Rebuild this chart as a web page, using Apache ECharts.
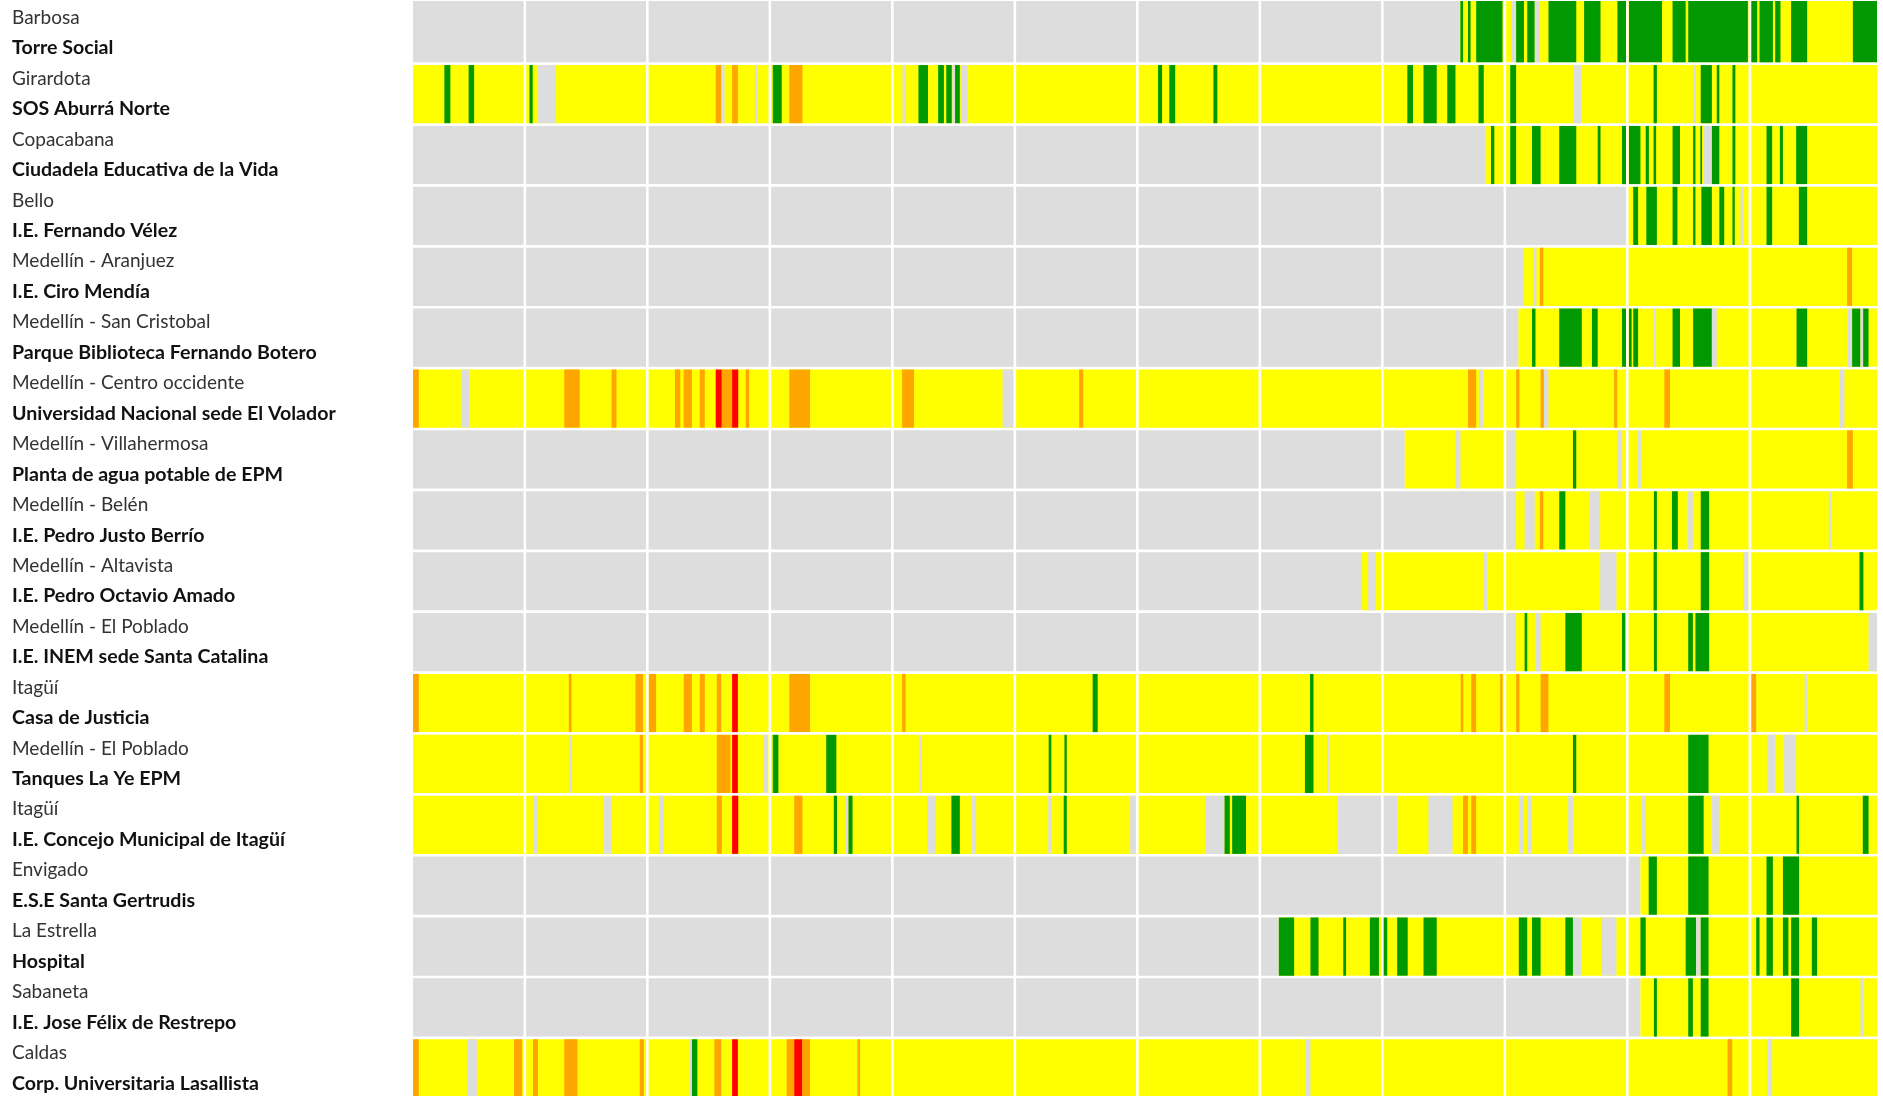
<!DOCTYPE html>
<html>
<head>
<meta charset="utf-8">
<script src="https://cdn.jsdelivr.net/npm/echarts@6.0.0/dist/echarts.min.js"></script>
<style>
  html, body { margin: 0; padding: 0; background: #fff; }
  #chart { width: 1883px; height: 1096px; }
</style>
</head>
<body>
<div id="chart"></div>
<script>
// time range shown (decimal years)
const START = 2011.087;
const END = 2023.038;
const yearLines = [2012, 2013, 2014, 2015, 2016, 2017, 2018, 2019, 2020, 2021, 2022];

const places = ["Barbosa", "Girardota", "Copacabana", "Bello", "Medellín - Aranjuez", "Medellín - San Cristobal",
  "Medellín - Centro occidente", "Medellín - Villahermosa", "Medellín - Belén", "Medellín - Altavista",
  "Medellín - El Poblado", "Itagüí", "Medellín - El Poblado", "Itagüí", "Envigado", "La Estrella", "Sabaneta", "Caldas"];
const sites = ["Torre Social", "SOS Aburrá Norte", "Ciudadela Educativa de la Vida", "I.E. Fernando Vélez",
  "I.E. Ciro Mendía", "Parque Biblioteca Fernando Botero", "Universidad Nacional sede El Volador",
  "Planta de agua potable de EPM", "I.E. Pedro Justo Berrío", "I.E. Pedro Octavio Amado",
  "I.E. INEM sede Santa Catalina", "Casa de Justicia", "Tanques La Ye EPM", "I.E. Concejo Municipal de Itagüí",
  "E.S.E Santa Gertrudis", "Hospital", "I.E. Jose Félix de Restrepo", "Corp. Universitaria Lasallista"];

// level codes: 0 no data, 1 good, 2 moderate, 3 sensitive groups, 4 harmful
const levelColors = ["#dddddd", "#009900", "#ffff00", "#ffa500", "#ff0000"];

// each row: [from, to, level], later spans drawn over earlier ones
const torreSocial = [[START, 2019.632, 0], [2019.632, END, 2],
  [2019.637, 2019.659, 1], [2019.699, 2019.720, 1], [2019.766, 2019.981, 1],
  [2020.05, 2020.092, 0], [2020.092, 2020.156, 1], [2020.183, 2020.244, 1], [2020.244, 2020.286, 0],
  [2020.356, 2020.583, 1], [2020.647, 2020.781, 1], [2020.919, 2020.989, 1],
  [2021.013, 2021.283, 1], [2021.369, 2021.476, 1], [2021.497, 2021.984, 1],
  [2022.011, 2022.060, 1], [2022.079, 2022.188, 1], [2022.207, 2022.250, 1], [2022.337, 2022.468, 1], [2022.841, END, 1]];
const sosNorte = [[START, END, 2],
  [2011.343, 2011.392, 1], [2011.541, 2011.586, 1],
  [2012.038, 2012.064, 1], [2012.107, 2012.255, 0],
  [2013.558, 2013.603, 3], [2013.608, 2013.631, 0], [2013.692, 2013.739, 3], [2013.878, 2013.9, 0],
  [2014.024, 2014.097, 1], [2014.159, 2014.266, 3],
  [2015.083, 2015.111, 0], [2015.213, 2015.291, 1], [2015.374, 2015.421, 1], [2015.44, 2015.485, 1],
  [2015.49, 2015.512, 0], [2015.512, 2015.551, 1], [2015.559, 2015.615, 0],
  [2017.169, 2017.202, 1], [2017.261, 2017.309, 1], [2017.621, 2017.653, 1],
  [2019.204, 2019.25, 1], [2019.336, 2019.444, 1], [2019.53, 2019.597, 1], [2019.785, 2019.828, 1],
  [2020.044, 2020.092, 1], [2020.564, 2020.625, 0],
  [2021.214, 2021.241, 1], [2021.537, 2021.561, 0], [2021.599, 2021.69, 1], [2021.73, 2021.751, 1], [2021.858, 2021.882, 1]];
const ciudadela = [[START, 2019.847, 0], [2019.847, END, 2],
  [2019.887, 2019.914, 1],
  [2020.044, 2020.092, 1], [2020.222, 2020.292, 1], [2020.444, 2020.583, 1], [2020.758, 2020.781, 1], [2020.956, 2020.989, 1],
  [2021.013, 2021.107, 1], [2021.15, 2021.176, 1], [2021.214, 2021.235, 1], [2021.369, 2021.43, 1], [2021.537, 2021.556, 1],
  [2021.596, 2021.61, 1], [2021.623, 2021.684, 0], [2021.69, 2021.751, 1], [2021.858, 2021.882, 1],
  [2022.136, 2022.182, 1], [2022.245, 2022.27, 1], [2022.378, 2022.468, 1]];
const fernandoVelez = [[START, 2021.005, 0], [2021.005, END, 2],
  [2021.048, 2021.088, 1], [2021.155, 2021.241, 1], [2021.369, 2021.409, 1], [2021.537, 2021.556, 1],
  [2021.604, 2021.69, 1], [2021.751, 2021.791, 1], [2021.858, 2021.877, 1], [2021.925, 2021.947, 0],
  [2022.136, 2022.182, 1], [2022.4, 2022.468, 1]];
const ciroMendia = [[START, 2020.156, 0], [2020.156, END, 2],
  [2020.231, 2020.258, 0], [2020.286, 2020.314, 3],
  [2022.794, 2022.835, 3]];
const fernandoBotero = [[START, 2020.111, 0], [2020.111, END, 2],
  [2020.222, 2020.25, 1], [2020.444, 2020.628, 1], [2020.711, 2020.758, 1], [2020.956, 2020.989, 1],
  [2021.013, 2021.035, 1], [2021.048, 2021.088, 1], [2021.217, 2021.235, 0], [2021.369, 2021.43, 1],
  [2021.537, 2021.69, 1], [2021.69, 2021.73, 0],
  [2022.381, 2022.468, 1], [2022.8, 2022.835, 0], [2022.835, 2022.903, 1], [2022.903, 2022.925, 0], [2022.925, 2022.969, 1]];
const elVolador = [[START, END, 2],
  [START, 2011.135, 3], [2011.478, 2011.546, 0],
  [2012.322, 2012.448, 3], [2012.708, 2012.748, 3],
  [2013.225, 2013.269, 3], [2013.297, 2013.364, 3], [2013.428, 2013.469, 3], [2013.558, 2013.608, 4],
  [2013.608, 2013.692, 3], [2013.692, 2013.742, 4], [2013.803, 2013.831, 3],
  [2014.159, 2014.328, 3],
  [2015.08, 2015.177, 3], [2015.9, 2015.989, 0],
  [2016.525, 2016.558, 3],
  [2019.699, 2019.766, 3], [2019.788, 2019.825, 0],
  [2020.092, 2020.119, 3], [2020.292, 2020.319, 3], [2020.319, 2020.356, 0], [2020.892, 2020.917, 3],
  [2021.302, 2021.348, 3],
  [2022.732, 2022.772, 0]];
const plantaEpm = [[START, 2019.183, 0], [2019.183, END, 2],
  [2019.597, 2019.637, 0],
  [2020.011, 2020.092, 0], [2020.556, 2020.583, 1], [2020.917, 2020.958, 0],
  [2021.088, 2021.115, 0],
  [2022.794, 2022.841, 3]];
const justoBerrio = [[START, 2020.092, 0], [2020.092, END, 2],
  [2020.161, 2020.244, 0], [2020.286, 2020.314, 3], [2020.444, 2020.494, 1], [2020.694, 2020.778, 0],
  [2021.217, 2021.241, 1], [2021.364, 2021.412, 1], [2021.492, 2021.535, 0], [2021.599, 2021.668, 1],
  [2022.645, 2022.664, 0]];
const octavioAmado = [[START, 2018.834, 0], [2018.834, END, 2],
  [2018.884, 2018.945, 0],
  [2019.828, 2019.855, 0],
  [2020.778, 2020.911, 0],
  [2021.214, 2021.241, 1], [2021.599, 2021.668, 1], [2021.944, 2021.989, 0],
  [2022.895, 2022.927, 1]];
const inem = [[START, 2020.092, 0], [2020.092, END, 2],
  [2020.161, 2020.183, 1], [2020.25, 2020.292, 0], [2020.494, 2020.628, 1], [2020.956, 2020.983, 1],
  [2021.217, 2021.241, 1], [2021.497, 2021.535, 1], [2021.556, 2021.668, 1],
  [2022.969, END, 0]];
const casaJusticia = [[START, END, 2],
  [START, 2011.135, 3],
  [2012.359, 2012.381, 3], [2012.903, 2012.965, 3],
  [2013.011, 2013.072, 3], [2013.297, 2013.364, 3], [2013.428, 2013.469, 3], [2013.567, 2013.603, 3], [2013.692, 2013.739, 4],
  [2014.159, 2014.328, 3],
  [2015.08, 2015.108, 3],
  [2016.635, 2016.676, 1],
  [2018.41, 2018.438, 1],
  [2019.64, 2019.661, 3], [2019.726, 2019.766, 3], [2019.962, 2019.981, 3],
  [2020.092, 2020.119, 3], [2020.292, 2020.356, 3],
  [2021.302, 2021.348, 3],
  [2022.011, 2022.052, 3], [2022.447, 2022.469, 0]];
const tanquesLaYe = [[START, END, 2],
  [2012.362, 2012.381, 0], [2012.938, 2012.965, 3],
  [2013.567, 2013.678, 3], [2013.692, 2013.739, 4], [2013.947, 2013.983, 0],
  [2014.024, 2014.07, 1], [2014.46, 2014.543, 1],
  [2015.221, 2015.241, 0],
  [2016.276, 2016.298, 1], [2016.405, 2016.424, 1],
  [2018.368, 2018.438, 1], [2018.548, 2018.571, 0],
  [2020.556, 2020.583, 1],
  [2021.497, 2021.663, 1],
  [2022.141, 2022.207, 0], [2022.277, 2022.378, 0]];
const concejoItagui = [[START, END, 2],
  [2012.067, 2012.107, 0], [2012.643, 2012.708, 0],
  [2013.094, 2013.136, 0], [2013.567, 2013.608, 3], [2013.692, 2013.742, 4],
  [2014.199, 2014.266, 3], [2014.522, 2014.548, 1], [2014.616, 2014.642, 0], [2014.642, 2014.675, 1],
  [2015.283, 2015.352, 0], [2015.482, 2015.551, 1], [2015.648, 2015.684, 0],
  [2016.273, 2016.3, 0], [2016.399, 2016.424, 1], [2016.941, 2016.981, 0],
  [2017.559, 2017.712, 0], [2017.712, 2017.755, 1], [2017.774, 2017.887, 1],
  [2018.634, 2019.121, 0], [2019.376, 2019.573, 0], [2019.659, 2019.699, 3], [2019.726, 2019.766, 3],
  [2020.114, 2020.156, 0], [2020.183, 2020.222, 0], [2020.517, 2020.556, 0],
  [2021.115, 2021.15, 0], [2021.497, 2021.623, 1], [2021.69, 2021.751, 0],
  [2022.381, 2022.402, 1], [2022.922, 2022.969, 1]];
const santaGertrudis = [[START, 2021.107, 0], [2021.107, END, 2],
  [2021.174, 2021.241, 1], [2021.497, 2021.663, 1],
  [2022.136, 2022.188, 1], [2022.27, 2022.402, 1]];
const hospital = [[START, 2018.155, 0], [2018.155, END, 2],
  [2018.155, 2018.28, 1], [2018.413, 2018.479, 1], [2018.681, 2018.704, 1], [2018.898, 2018.972, 1],
  [2019.0, 2019.04, 1], [2019.121, 2019.207, 1], [2019.336, 2019.444, 1],
  [2020.114, 2020.183, 1], [2020.222, 2020.292, 1], [2020.494, 2020.556, 1], [2020.556, 2020.625, 0], [2020.786, 2020.911, 0],
  [2021.107, 2021.15, 1], [2021.476, 2021.561, 1], [2021.561, 2021.599, 0], [2021.599, 2021.663, 1],
  [2022.052, 2022.079, 1], [2022.136, 2022.188, 1], [2022.27, 2022.315, 1], [2022.337, 2022.402, 1], [2022.506, 2022.549, 1]];
const felixRestrepo = [[START, 2021.107, 0], [2021.107, END, 2],
  [2021.217, 2021.241, 1], [2021.497, 2021.535, 1], [2021.599, 2021.663, 1],
  [2022.337, 2022.402, 1], [2022.903, 2022.927, 0]];
const lasallista = [[START, END, 2],
  [START, 2011.135, 3], [2011.527, 2011.608, 0], [2011.911, 2011.978, 3],
  [2012.067, 2012.107, 3], [2012.322, 2012.429, 3], [2012.938, 2012.971, 3],
  [2013.344, 2013.364, 0], [2013.364, 2013.408, 1], [2013.547, 2013.603, 3], [2013.692, 2013.739, 4],
  [2014.137, 2014.199, 3], [2014.199, 2014.266, 4], [2014.266, 2014.328, 3], [2014.715, 2014.737, 3],
  [2018.377, 2018.413, 0],
  [2021.818, 2021.856, 3],
  [2022.141, 2022.182, 0]];

const rows = [torreSocial, sosNorte, ciudadela, fernandoVelez, ciroMendia, fernandoBotero, elVolador,
  plantaEpm, justoBerrio, octavioAmado, inem, casaJusticia, tanquesLaYe, concejoItagui,
  santaGertrudis, hospital, felixRestrepo, lasallista];

// [row, from, to, level]
const spans = [];
rows.forEach((row, i) => row.forEach(([a, b, lvl]) => spans.push([i, a, b, lvl])));

const chart = echarts.init(document.getElementById("chart"));

// the row strips sit a little below the label bands, white gap between rows
const renderSpan = (params, api) => {
  const row = api.value(0);
  const p0 = api.coord([api.value(1), row]);
  const p1 = api.coord([api.value(2), row]);
  const h = api.size([0, 1])[1];
  const top = row === 0 ? params.coordSys.y + 1 : p0[1] - h / 2 + 2.8 + 1.35;
  const bottom = p0[1] + h / 2 + 2.8 - 1.35;
  return {
    type: "rect",
    shape: { x: p0[0], y: top, width: p1[0] - p0[0], height: bottom - top },
    style: { fill: levelColors[api.value(3)] },
  };
};

// white separators at each new year
const renderYear = (params, api) => {
  const p = api.coord([api.value(1), 0]);
  const cs = params.coordSys;
  return {
    type: "rect",
    shape: { x: p[0] - 1.3, y: cs.y, width: 2.6, height: cs.height },
    style: { fill: "#ffffff" },
  };
};

chart.setOption({
  animation: false,
  grid: { left: 413, right: 6, top: 0, bottom: 0 },
  xAxis: {
    type: "value",
    min: START,
    max: END,
    show: false,
  },
  yAxis: {
    type: "category",
    inverse: true,
    data: sites,
    axisLine: { show: false },
    axisTick: { show: false },
    splitLine: { show: false },
    axisLabel: {
      interval: 0,
      align: "left",
      margin: 401,
      padding: [5, 0, 0, 0],
      formatter: (v, i) => `{p|${places[i]}}\n{s|${sites[i]}}`,
      rich: {
        p: { fontFamily: "Lato", fontSize: 19, color: "#333333", lineHeight: 30.4 },
        s: { fontFamily: "Lato", fontSize: 19.6, fontWeight: "bold", color: "#111111", lineHeight: 30.4 },
      },
    },
  },
  series: [
    {
      type: "custom",
      renderItem: renderSpan,
      encode: { x: [1, 2], y: 0 },
      data: spans,
      clip: true,
      silent: true,
    },
    {
      type: "custom",
      renderItem: renderYear,
      encode: { x: 1, y: 0 },
      data: yearLines.map((y) => [0, y]),
      silent: true,
      z: 5,
    },
  ],
});
</script>
</body>
</html>
